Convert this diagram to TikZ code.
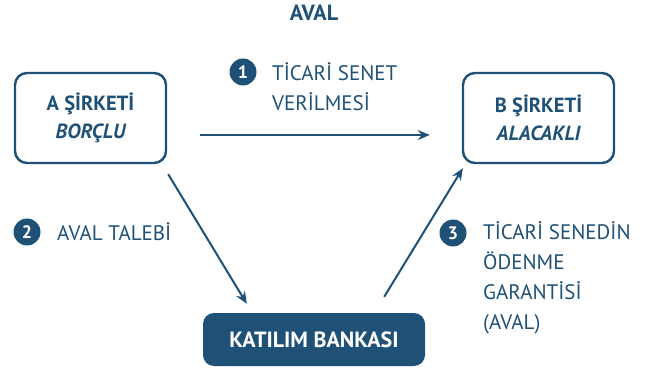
\documentclass[tikz,border=0pt]{standalone}
\usepackage{fontspec}
\setmainfont{PT Sans}
\usetikzlibrary{arrows.meta,positioning}
\definecolor{avalBlue}{HTML}{1F5177}

\begin{document}
\begin{tikzpicture}[x=1pt,y=-1pt,>={Stealth[length=12pt,width=10pt]},
  font=\fontsize{21}{30}\selectfont, text=avalBlue,
  party/.style={draw=avalBlue,line width=2.4pt,rounded corners=12pt,minimum width=151pt,minimum height=90pt,align=center,font=\fontsize{20.5}{28}\selectfont\bfseries},
  bank/.style={fill=avalBlue,rounded corners=11pt,minimum width=222pt,minimum height=53pt,text=white,font=\fontsize{22}{24}\selectfont\bfseries},
  num/.style={circle,fill=avalBlue,text=white,inner sep=0pt,minimum size=27pt,font=\fontsize{18}{20}\selectfont\bfseries},
  note/.style={anchor=west,align=left,inner sep=0pt},
  flow/.style={->,draw=avalBlue,line width=2pt}]
\useasboundingbox (0,0) rectangle (650,371);
% title
\node[font=\fontsize{22}{24}\selectfont\bfseries] (title) at (314,13) {AVAL};
% the three parties
\node[party] (a) at (90.5,118) {A ŞİRKETİ\\\itshape BORÇLU};
\node[party] (b) at (538.5,118) {B ŞİRKETİ\\\itshape ALACAKLI};
\node[bank] (k) at (314,339.5) {KATILIM BANKASI};
% steps
\node[num] (n1) at (243,72) {1};
\node[note] (t1) at (272,87) {TİCARİ SENET\\VERİLMESİ};
\node[num] (n2) at (27,232) {2};
\node[note] (t2) at (57,232) {AVAL TALEBİ};
\node[num] (n3) at (453,233) {3};
\node[note] (t3) at (483,278) {TİCARİ SENEDİN\\ÖDENME\\GARANTİSİ\\(AVAL)};
% arrows
\draw[flow,shorten <=33pt,shorten >=32pt] ([yshift=-17pt]a.east) -- ([yshift=-17pt]b.west);
\draw[flow] ([shift={(1,10)}]a.south east) -- ([shift={(44,-9)}]k.north west);
\draw[flow] ([shift={(-41,-16)}]k.north east) -- ([shift={(1,4)}]b.south west);
\end{tikzpicture}
\end{document}
